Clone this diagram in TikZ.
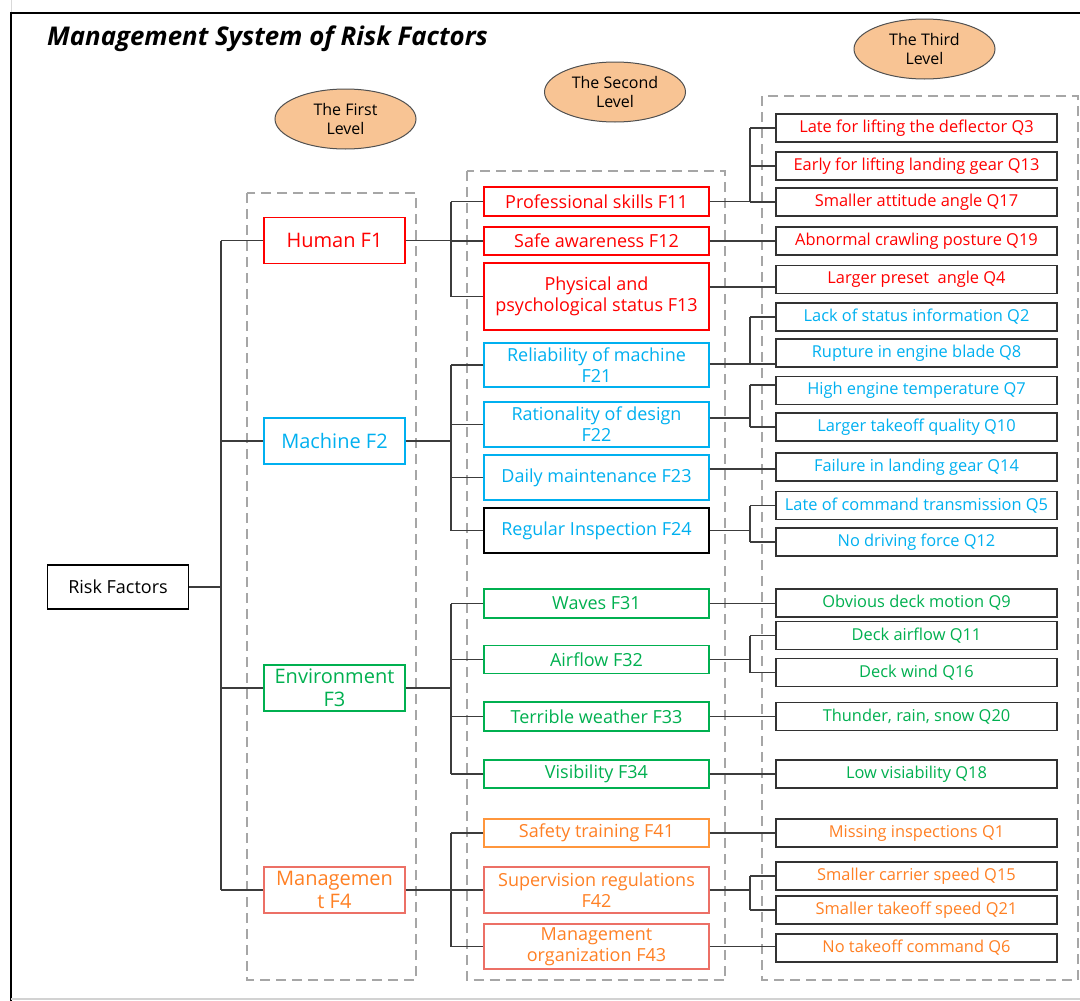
\documentclass[tikz,border=0pt]{standalone}
\usepackage{fontspec}
\setmainfont{Open Sans}
\usetikzlibrary{shapes.geometric,calc}

\definecolor{hred}{RGB}{255,0,0}
\definecolor{mcyan}{RGB}{0,176,240}
\definecolor{egreen}{RGB}{0,176,80}
\definecolor{otext}{RGB}{255,128,36}
\definecolor{oline}{RGB}{255,150,60}
\definecolor{sline}{RGB}{236,112,102}
\definecolor{qborder}{RGB}{50,50,50}
\definecolor{connc}{RGB}{60,60,60}
\definecolor{zonec}{RGB}{166,166,166}
\definecolor{tagfill}{RGB}{248,196,148}
\definecolor{tagline}{RGB}{80,80,80}

\tikzset{
  box/.style={draw, line width=1.3pt, inner sep=0pt, align=center},
  lvone/.style={box, minimum width=141pt, minimum height=46pt, font=\fontsize{20}{23}\selectfont},
  lvtwo/.style={box, minimum width=225pt, font=\fontsize{18}{21}\selectfont},
  lvthree/.style={box, draw=qborder, line width=1.6pt, minimum width=281pt, minimum height=28pt, font=\fontsize{16.4}{19}\selectfont},
  conn/.style={draw=connc, line width=1.3pt},
  zone/.style={draw=zonec, line width=2pt, dash pattern=on 10pt off 6pt},
  tag/.style={ellipse, draw=tagline, fill=tagfill, line width=1pt, minimum width=141pt, minimum height=60pt, inner sep=0pt, align=center, font=\fontsize{16}{18.5}\selectfont},
  human/.style={draw=hred, text=hred},
  mach/.style={draw=mcyan, text=mcyan},
  env/.style={draw=egreen, text=egreen},
  mgmt/.style={draw=sline, text=otext},
}

\begin{document}
\begin{tikzpicture}[x=1pt, y=-1pt]
\useasboundingbox (0,0) rectangle (1080,1001);
\fill[white] (0,0) rectangle (1080,1001);

% outer frame
\draw[gray!30, line width=1pt] (11,0) -- (11,13);
\draw[black, line width=2.5pt] (10,13) -- (1080,13);
\draw[black, line width=2.5pt] (11,13) -- (11,1001);
\draw[gray!35, line width=1.5pt] (11,999) -- (1080,999);

% title
\node[anchor=base west, inner sep=0pt, font=\fontsize{25.8}{30}\selectfont\bfseries\itshape] (title) at (47,45.5) {Management System of Risk Factors};

% level zones
\draw[zone] (247,193) rectangle (416,980);
\draw[zone] (466.5,171) rectangle (725,980);
\draw[zone] (762,96) rectangle (1078,980);

% level tags
\node[tag] (tag1) at (345.5,119) {The First\\Level};
\node[tag] (tag2) at (615,92) {The Second\\Level};
\node[tag] (tag3) at (924.5,49) {The Third\\Level};

% root
\node[box, draw=black, line width=1.3pt, minimum width=141pt, minimum height=44pt, font=\fontsize{18}{21}\selectfont] (risk) at (118,587) {Risk Factors};

% first level
\node[lvone, human] (f1) at (334.5,240.5) {Human F1};
\node[lvone, mach]  (f2) at (334.5,441) {Machine F2};
\node[lvone, env]   (f3) at (334.5,688) {Environment\\F3};
\node[lvone, mgmt]  (f4) at (334.5,890) {Managemen\\t F4};

% second level
\node[lvtwo, human, minimum height=29pt] (f11) at (596.5,201.5) {Professional skills F11};
\node[lvtwo, human, minimum height=28pt] (f12) at (596.5,241) {Safe awareness F12};
\node[lvtwo, human, minimum height=67pt] (f13) at (596.5,296.5) {Physical and\\psychological status F13};
\node[lvtwo, mach, minimum height=44pt] (f21) at (596.5,365) {Reliability of machine\\F21};
\node[lvtwo, mach, minimum height=45pt] (f22) at (596.5,424.5) {Rationality of design\\F22};
\node[lvtwo, mach, minimum height=45pt] (f23) at (596.5,477.5) {Daily maintenance F23};
\node[lvtwo, draw=black, text=mcyan, minimum height=45pt] (f24) at (596.5,530.5) {Regular Inspection F24};
\node[lvtwo, env, minimum height=29pt] (f31) at (596.5,603.5) {Waves F31};
\node[lvtwo, env, minimum height=28pt] (f32) at (596.5,659.5) {Airflow F32};
\node[lvtwo, env, minimum height=29pt] (f33) at (596.5,716.5) {Terrible weather F33};
\node[lvtwo, env, minimum height=28pt] (f34) at (596.5,774) {Visibility F34};
\node[lvtwo, draw=oline, text=otext, minimum height=28pt] (f41) at (596.5,833) {Safety training F41};
\node[lvtwo, mgmt, minimum height=46pt] (f42) at (596.5,890) {Supervision regulations\\F42};
\node[lvtwo, mgmt, minimum height=45pt] (f43) at (596.5,946.5) {Management\\organization F43};

% third level
\node[lvthree, text=hred] (q3)  at (916.5,128)   {Late for lifting the deflector Q3};
\node[lvthree, text=hred] (q13) at (916.5,166)   {Early for lifting landing gear Q13};
\node[lvthree, text=hred] (q17) at (916.5,202)   {Smaller attitude angle Q17};
\node[lvthree, text=hred] (q19) at (916.5,241)   {Abnormal crawling posture Q19};
\node[lvthree, text=hred] (q4)  at (916.5,279.5) {Larger preset~ angle Q4};
\node[lvthree, text=mcyan] (q2)  at (916.5,317)   {Lack of status information Q2};
\node[lvthree, text=mcyan] (q8)  at (916.5,353)   {Rupture in engine blade Q8};
\node[lvthree, text=mcyan] (q7)  at (916.5,390.5) {High engine temperature Q7};
\node[lvthree, text=mcyan] (q10) at (916.5,427)   {Larger takeoff quality Q10};
\node[lvthree, text=mcyan] (q14) at (916.5,467)   {Failure in landing gear Q14};
\node[lvthree, text=mcyan] (q5)  at (916.5,505.5) {Late of command transmission Q5};
\node[lvthree, text=mcyan] (q12) at (916.5,542)   {No driving force Q12};
\node[lvthree, text=egreen] (q9)  at (916.5,603)   {Obvious deck motion Q9};
\node[lvthree, text=egreen] (q11) at (916.5,635.5) {Deck airflow Q11};
\node[lvthree, text=egreen] (q16) at (916.5,672.5) {Deck wind Q16};
\node[lvthree, text=egreen] (q20) at (916.5,716.5) {Thunder, rain, snow Q20};
\node[lvthree, text=egreen] (q18) at (916.5,774)   {Low visiability Q18};
\node[lvthree, text=otext] (q1)  at (916.5,833)   {Missing inspections Q1};
\node[lvthree, text=otext] (q15) at (916.5,876)   {Smaller carrier speed Q15};
\node[lvthree, text=otext] (q21) at (916.5,910)   {Smaller takeoff speed Q21};
\node[lvthree, text=otext] (q6)  at (916.5,948)   {No takeoff command Q6};

% bus positions
\coordinate (ta) at (221,0);
\coordinate (tb) at (451,0);
\coordinate (tc) at (750,0);

% root to first level
\draw[conn] (risk.east) -- (risk.east -| ta);
\draw[conn] (f1.west -| ta) -- (f4.west -| ta);
\foreach \n in {f1,f2,f3,f4} \draw[conn] (\n.west) -- (\n.west -| ta);

% first to second level
\draw[conn] (f1.east) -- (f1.east -| tb);
\draw[conn] (f11.west -| tb) -- (f13.west -| tb);
\foreach \n in {f11,f12,f13} \draw[conn] (\n.west) -- (\n.west -| tb);
\draw[conn] (f2.east) -- (f2.east -| tb);
\draw[conn] (f21.west -| tb) -- (f24.west -| tb);
\foreach \n in {f21,f22,f23,f24} \draw[conn] (\n.west) -- (\n.west -| tb);
\draw[conn] (f3.east) -- (f3.east -| tb);
\draw[conn] (f31.west -| tb) -- (f34.west -| tb);
\foreach \n in {f31,f32,f33,f34} \draw[conn] (\n.west) -- (\n.west -| tb);
\draw[conn] (f4.east) -- (f4.east -| tb);
\draw[conn] (f41.west -| tb) -- (f43.west -| tb);
\foreach \n in {f41,f42,f43} \draw[conn] (\n.west) -- (\n.west -| tb);

% second to third level: ports
\coordinate (q4p)  at ([yshift=-7.5pt]q4.west);
\coordinate (q8p)  at ([yshift=-11pt]q8.west);
\coordinate (q7p)  at ([yshift=5.5pt]q7.west);
\coordinate (f22p) at ([yshift=6.5pt]f22.east);
\coordinate (q14p) at ([yshift=-2pt]q14.west);

% human
\draw[conn] (f11.east) -- (f11.east -| tc);
\draw[conn] (q3.west -| tc) -- (q17.west -| tc);
\foreach \n in {q3,q13,q17} \draw[conn] (\n.west) -- (\n.west -| tc);
\draw[conn] (f12.east) -- (q19.west);
\draw[conn] (f13.east |- q4p) -- (q4p);
% machine
\draw[conn] (f21.east |- q8p) -- (q8p);
\draw[conn] (q2.west -| tc) -- (q8p -| tc);
\draw[conn] (q2.west) -- (q2.west -| tc);
\draw[conn] (f22p) -- (f22p -| tc);
\draw[conn] (q7p -| tc) -- (q10.west -| tc);
\draw[conn] (q7p) -- (q7p -| tc);
\draw[conn] (q10.west) -- (q10.west -| tc);
\draw[conn] (f23.east |- q14p) -- (q14p);
\draw[conn] (f24.east) -- (f24.east -| tc);
\draw[conn] (q5.west -| tc) -- (q12.west -| tc);
\foreach \n in {q5,q12} \draw[conn] (\n.west) -- (\n.west -| tc);
% environment
\draw[conn] (f31.east) -- (f31.east -| q9.west);
\draw[conn] (f32.east) -- (f32.east -| tc);
\draw[conn] (q11.west -| tc) -- (q16.west -| tc);
\foreach \n in {q11,q16} \draw[conn] (\n.west) -- (\n.west -| tc);
\draw[conn] (f33.east) -- (q20.west);
\draw[conn] (f34.east) -- (f34.east -| q18.west);
% management
\draw[conn] (f41.east) -- (f41.east -| q1.west);
\draw[conn] (f42.east) -- (f42.east -| tc);
\draw[conn] (q15.west -| tc) -- (q21.west -| tc);
\foreach \n in {q15,q21} \draw[conn] (\n.west) -- (\n.west -| tc);
\draw[conn] (f43.east) -- (f43.east -| q6.west);
\end{tikzpicture}
\end{document}
